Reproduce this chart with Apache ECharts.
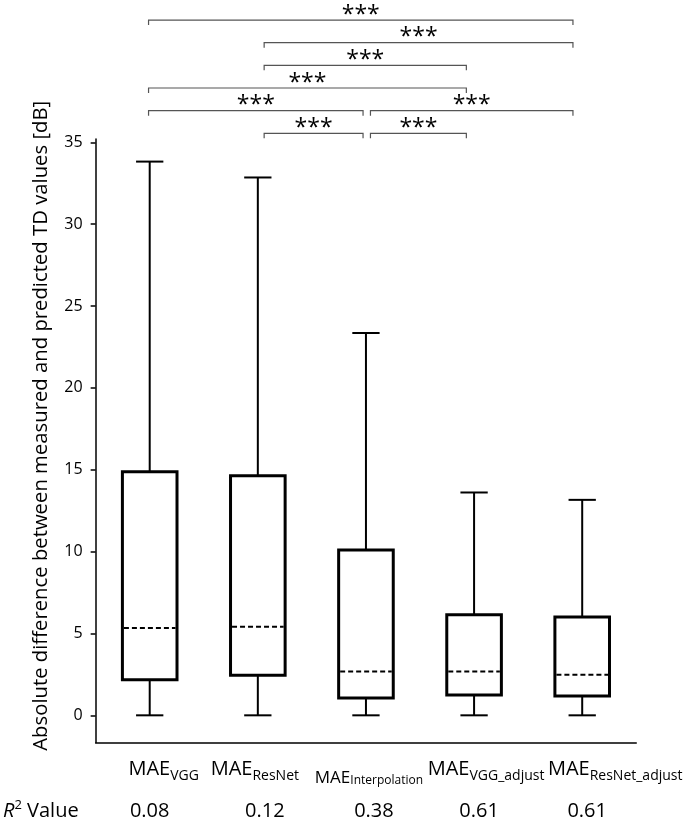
<!DOCTYPE html>
<html><head><meta charset="utf-8">
<script src="https://cdn.jsdelivr.net/npm/echarts@6/dist/echarts.min.js"></script>
<style>html,body{margin:0;padding:0;background:#fff}#chart{width:685px;height:821px}</style>
</head><body><div id="chart"></div>
<script>
// ---- data ----
const categories = ['VGG', 'ResNet', 'Interpolation', 'VGG_adjust', 'ResNet_adjust'];
const r2Values = ['0.08', '0.12', '0.38', '0.61', '0.61'];
const whiskerLow = [0, 0, 0, 0, 0];
const q1 = [2.18, 2.44, 1.06, 1.24, 1.18];
const median = [5.33, 5.41, 2.68, 2.68, 2.48];
const q3 = [14.87, 14.63, 10.1, 6.15, 6.0];
const whiskerHigh = [33.82, 32.85, 23.35, 13.61, 13.16];
const yTicks = [0, 5, 10, 15, 20, 25, 30, 35];
const bracketFrom  = [0, 1, 1, 0, 0, 2, 1, 2];
const bracketTo    = [4, 4, 3, 3, 2, 4, 2, 3];
const bracketLevel = [6, 5, 4, 3, 2, 2, 1, 1];
const bracketText  = ['***', '***', '***', '***', '***', '***', '***', '***'];

// ---- style constants (pixel nudges, not data) ----
const FONT = 'Open Sans';
const labelShift = [14, -3, 3, 12, 33];
const r2Shift = [0, 7, 8, 5, 5];
const bracketEndShift = [0, 6.5, 0, -9.5, -12];

const chart = echarts.init(document.getElementById('chart'), null, {renderer: 'canvas'});

function shifted(prefix, i, s, body) {
  const pre = s > 0 ? '{' + prefix + i + '| }' : '';
  const post = s < 0 ? '{' + prefix + i + '| }' : '';
  return pre + body + post;
}

const rich = {
  m: {fontSize: 20, lineHeight: 24, verticalAlign: 'top', fontFamily: FONT, color: '#000'},
  s: {fontSize: 14, lineHeight: 14, verticalAlign: 'bottom', fontFamily: FONT, color: '#000'},
  mc: {fontSize: 17, lineHeight: 27, verticalAlign: 'bottom', fontFamily: FONT, color: '#000'},
  sc: {fontSize: 12, lineHeight: 18, verticalAlign: 'bottom', fontFamily: FONT, color: '#000'}
};
labelShift.forEach((s, i) => { rich['g' + i] = {width: Math.abs(s) * 2, fontSize: 10, lineHeight: 10}; });
const richR2 = {v: {fontSize: 20, lineHeight: 24, fontFamily: FONT, color: '#000'}};
r2Shift.forEach((s, i) => { richR2['h' + i] = {width: Math.abs(s) * 2, fontSize: 10, lineHeight: 10}; });

const boxData = categories.map((c, i) => [i, whiskerLow[i], q1[i], median[i], q3[i], whiskerHigh[i]]);
const bracketData = bracketFrom.map((f, i) => [f, bracketTo[i], bracketLevel[i]]);

function renderBox(params, api) {
  const i = api.value(0);
  const band = api.size([1, 0])[0];
  const bw = band * 0.505, cw = bw / 2;
  const lo = api.coord([i, api.value(1)]);
  const b1 = api.coord([i, api.value(2)]);
  const md = api.coord([i, api.value(3)]);
  const b3 = api.coord([i, api.value(4)]);
  const hi = api.coord([i, api.value(5)]);
  const x = lo[0];
  const thin = {stroke: '#000', lineWidth: 2};
  return {type: 'group', children: [
    {type: 'line', shape: {x1: x, y1: b3[1], x2: x, y2: hi[1]}, style: thin},
    {type: 'line', shape: {x1: x, y1: b1[1], x2: x, y2: lo[1]}, style: thin},
    {type: 'line', shape: {x1: x - cw / 2, y1: hi[1], x2: x + cw / 2, y2: hi[1]}, style: thin},
    {type: 'line', shape: {x1: x - cw / 2, y1: lo[1], x2: x + cw / 2, y2: lo[1]}, style: thin},
    {type: 'rect', shape: {x: x - bw / 2, y: b3[1], width: bw, height: b1[1] - b3[1]},
      style: {fill: '#fff', stroke: '#000', lineWidth: 3}},
    {type: 'line', shape: {x1: x - bw / 2 + 1.5, y1: md[1], x2: x + bw / 2 - 1.5, y2: md[1]},
      style: {stroke: '#000', lineWidth: 2, lineDash: [5, 3]}}
  ]};
}

function renderBracket(params, api) {
  const idx = params.dataIndex;
  const a = api.value(0), b = api.value(1), lv = api.value(2);
  const pA = api.coord([a, lv]), pB = api.coord([b, lv]);
  let xA = pA[0] + bracketEndShift[a], xB = pB[0] + bracketEndShift[b];
  const inset = 3.7;
  for (let k = 0; k < bracketFrom.length; k++) {
    if (k === idx || bracketLevel[k] !== lv) continue;
    if (bracketTo[k] === a) xA += inset;
    if (bracketFrom[k] === b) xB -= inset;
  }
  const y = pA[1];
  return {type: 'group', children: [
    {type: 'polyline', shape: {points: [[xA, y + 5], [xA, y], [xB, y], [xB, y + 5]]},
      style: {stroke: '#555', lineWidth: 1.2, fill: 'none'}},
    {type: 'text', style: {text: bracketText[idx], x: (xA + xB) / 2, y: y - 5, align: 'center',
      verticalAlign: 'middle', fontSize: 23, fontFamily: FONT, fill: '#000'}}
  ]};
}

const option = {
  animation: false,
  backgroundColor: '#fff',
  grid: [
    {left: 94, right: 45.5, top: 139, bottom: 77},
    {left: 94, right: 45.5, top: 0, height: 156}
  ],
  xAxis: [
    {
      type: 'category', gridIndex: 0, data: categories, boundaryGap: true,
      axisLine: {onZero: false, lineStyle: {color: '#000', width: 1.5}},
      axisTick: {alignWithLabel: true, length: 5, lineStyle: {color: '#000', width: 1.5}},
      axisLabel: {
        interval: 0, margin: 17, color: '#000', rich: rich,
        formatter: (v, i) => {
          const big = i === 2 ? 'mc' : 'm', small = i === 2 ? 'sc' : 's';
          return shifted('g', i, labelShift[i], '{' + big + '|MAE}{' + small + '|' + v + '}');
        }
      },
      splitLine: {show: false}
    },
    {
      type: 'category', gridIndex: 0, data: categories, position: 'bottom', offset: 68.5,
      axisLine: {show: false, onZero: false}, axisTick: {show: false},
      axisLabel: {interval: 0, margin: 0, verticalAlign: 'middle', color: '#000', rich: richR2,
        formatter: (v, i) => shifted('h', i, r2Shift[i], '{v|' + r2Values[i] + '}')},
      name: '{i|R}{p|2}{n| Value}', nameLocation: 'start', nameGap: 17,
      nameTextStyle: {rich: {
        i: {fontSize: 20, fontStyle: 'italic', fontFamily: FONT, color: '#000', lineHeight: 24, verticalAlign: 'middle'},
        p: {fontSize: 13, fontFamily: FONT, color: '#000', lineHeight: 13, verticalAlign: 'top'},
        n: {fontSize: 20, fontFamily: FONT, color: '#000', lineHeight: 24, verticalAlign: 'middle'}
      }},
      splitLine: {show: false}
    },
    {type: 'category', gridIndex: 1, data: categories, show: false}
  ],
  yAxis: [
    {
      type: 'value', gridIndex: 0, min: -1.66, max: 35.2,
      axisLine: {show: true, lineStyle: {color: '#000', width: 1.5}},
      axisTick: {show: true, length: 5, customValues: yTicks, lineStyle: {color: '#000', width: 1.5}},
      axisLabel: {customValues: yTicks, margin: 13, fontSize: 16, fontFamily: FONT, color: '#000'},
      splitLine: {show: false},
      name: 'Absolute difference between measured and predicted TD values [dB]',
      nameLocation: 'middle', nameRotate: 90, nameGap: 44,
      nameTextStyle: {fontSize: 20.3, fontFamily: FONT, color: '#000', padding: [0, 0, 0, 30]}
    },
    {type: 'value', gridIndex: 1, min: 0, max: 156 / 22.66, show: false}
  ],
  series: [
    {type: 'custom', xAxisIndex: 0, yAxisIndex: 0, data: boxData, renderItem: renderBox,
      encode: {x: 0, y: [1, 2, 3, 4, 5]}, silent: true},
    {type: 'custom', xAxisIndex: 2, yAxisIndex: 1, data: bracketData, renderItem: renderBracket,
      encode: {x: [0, 1], y: 2}, silent: true, clip: false}
  ]
};
chart.setOption(option);
</script>
</body></html>
